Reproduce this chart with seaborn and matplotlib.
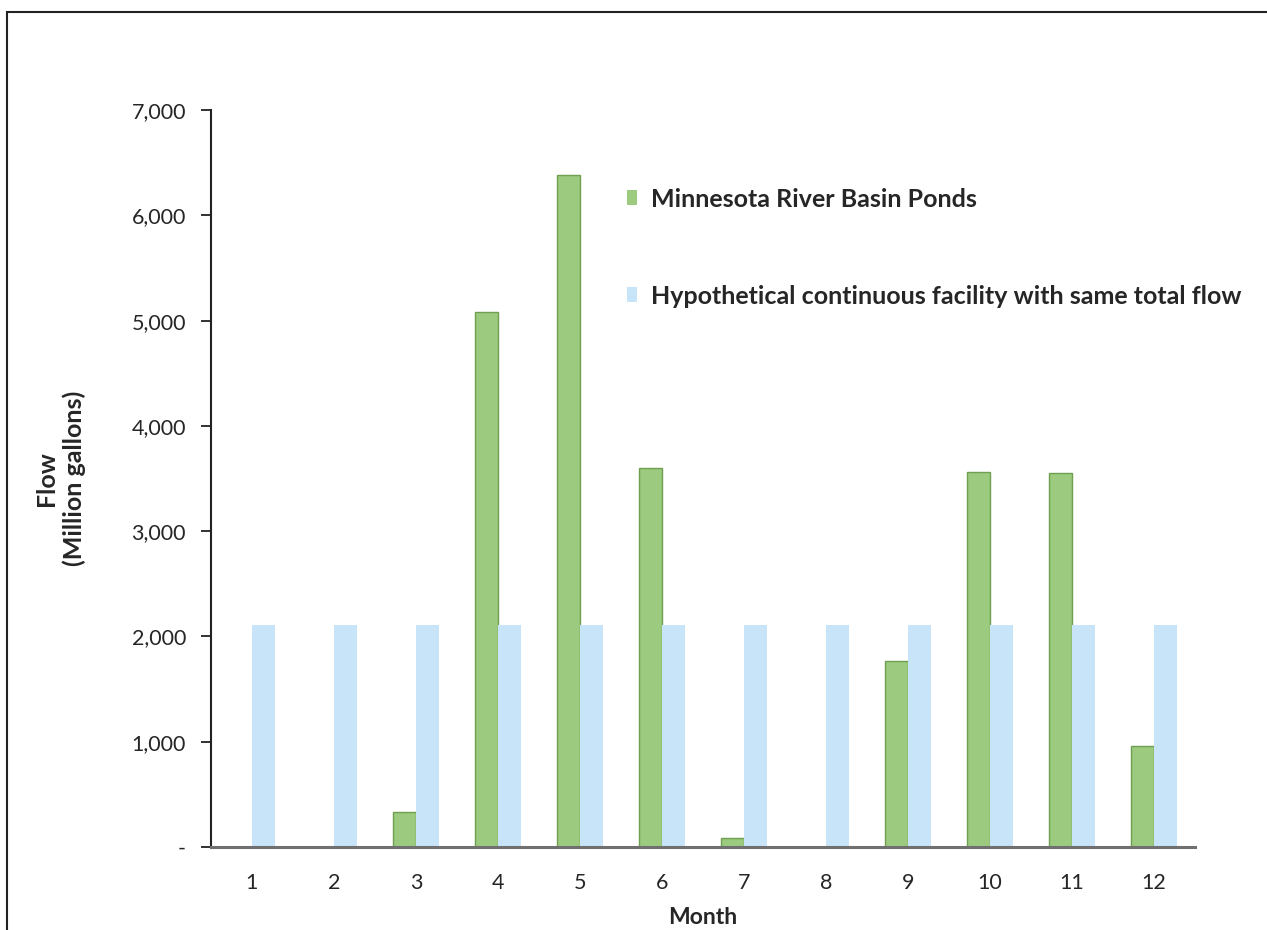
import pandas as pd
import seaborn as sns
import matplotlib.pyplot as plt
from matplotlib.patches import Rectangle
from matplotlib.ticker import FuncFormatter

months = [1, 2, 3, 4, 5, 6, 7, 8, 9, 10, 11, 12]
ponds = [0, 0, 331, 5080, 6385, 3600, 90, 0, 1765, 3560, 3550, 955]
continuous = [2110, 2110, 2110, 2110, 2110, 2110, 2110, 2110, 2110, 2110, 2110, 2110]
series_names = ["Minnesota River Basin Ponds",
                "Hypothetical continuous facility with same total flow"]

df = pd.DataFrame({
    "Month": months * 2,
    "Flow": ponds + continuous,
    "Series": [series_names[0]] * 12 + [series_names[1]] * 12,
})

sns.set_style("white")
plt.rcParams["font.family"] = ["Lato", "DejaVu Sans"]

fig = plt.figure(figsize=(12.67, 9.3), dpi=100)
ax = fig.add_axes([0.1665, 0.0892, 0.7767, 0.7925])

sns.barplot(data=df, x="Month", y="Flow", hue="Series", hue_order=series_names,
            palette=["#9cca7e", "#c8e4f8"], width=0.56, saturation=1,
            linewidth=0, ax=ax)

for bar in ax.containers[0]:
    bar.set_edgecolor("#6f9f50")
    bar.set_linewidth(1.0)

ax.set_ylim(0, 7000)
ax.set_xlim(-0.5, 11.5)
ax.set_yticks(range(0, 7001, 1000))
ax.yaxis.set_major_formatter(FuncFormatter(lambda v, p: "-" if v == 0 else f"{int(v):,}"))

ax.tick_params(axis="y", direction="out", length=7, width=1.3, color="#222222",
               labelsize=15.5, pad=11, left=True)
ax.tick_params(axis="x", length=0, labelsize=15.5, pad=19)

for side in ["top", "right"]:
    ax.spines[side].set_visible(False)
ax.spines["left"].set_color("#222222")
ax.spines["left"].set_linewidth(1.5)
ax.spines["bottom"].set_color("#707070")
ax.spines["bottom"].set_linewidth(2.2)

ax.set_xlabel("Month", fontsize=16.5, fontweight="bold", labelpad=10)
ax.set_ylabel("Flow\n(Million gallons)", fontsize=18, fontweight="bold")
ax.yaxis.set_label_coords(-0.127, 0.5)

handles, labels = ax.get_legend_handles_labels()
ax.legend(handles, labels, loc="upper left", bbox_to_anchor=(0.40, 0.925),
          frameon=False, prop={"weight": "bold", "size": 18},
          handlelength=0.4, handleheight=0.55, handletextpad=0.55,
          labelspacing=2.95)

fig.patches.append(Rectangle((0.0055, -0.1), 1.1, 1.1 - 12 / 930, fill=False,
                             edgecolor="#222222", linewidth=1.5,
                             transform=fig.transFigure, figure=fig))

fig.savefig("out.png", dpi=100)
